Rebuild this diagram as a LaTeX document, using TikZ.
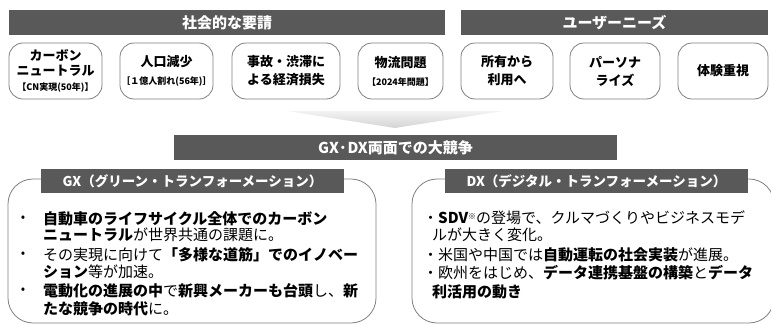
\documentclass[tikz,border=0pt]{standalone}
\usepackage{fontspec}
\setmainfont{Noto Sans CJK JP}
\definecolor{hdr}{HTML}{595959}
\definecolor{bord}{HTML}{7F7F7F}
\newcommand\smalltxt[1]{{\fontsize{9}{10}\selectfont #1}}
\begin{document}
\begin{tikzpicture}[x=1pt,y=-1pt,
  hdrbar/.style={fill=hdr, text=white, inner sep=0pt, minimum height=25pt,
    font=\bfseries\fontsize{15}{18}\selectfont},
  needbox/.style={draw=bord, line width=0.8pt, rounded corners=14pt,
    minimum height=56pt, align=center, inner sep=0pt,
    font=\bfseries\fontsize{13}{18}\selectfont},
  areaframe/.style={draw=bord, line width=0.8pt, rounded corners=25pt, inner sep=0pt},
  lblbar/.style={fill=hdr, text=white, inner sep=0pt, minimum height=24pt,
    font=\bfseries\fontsize{13.5}{16}\selectfont},
  bodytxt/.style={anchor=base west, inner sep=0pt, font=\fontsize{15}{17}\selectfont},
  bul/.style={inner sep=0pt, font=\fontsize{13}{15}\selectfont}
]
\useasboundingbox (0,0) rectangle (771,324);

% headers
\node[hdrbar, minimum width=436pt] (soc) at (227,22.5) {社会的な要請};
\node[hdrbar, minimum width=307pt] (usr) at (614.5,22.5) {ユーザーニーズ};

% need boxes
\node[needbox, minimum width=93pt, font=\bfseries\fontsize{13}{15}\selectfont] (b1) at (55.5,71) {カーボン\\ニュートラル\\\smalltxt{【CN実現(50年)】}};
\node[needbox, minimum width=93pt] (b2) at (166.5,71) {人口減少\\\smalltxt{［１億人割れ(56年)］}};
\node[needbox, minimum width=108pt] (b3) at (286,71) {事故・渋滞に\\よる経済損失};
\node[needbox, minimum width=85pt] (b4) at (400.5,71) {物流問題\\\smalltxt{【2024年問題】}};
\node[needbox, minimum width=92pt] (b5) at (507,71) {所有から\\利用へ};
\node[needbox, minimum width=90pt] (b6) at (615,71) {パーソナ\\ライズ};
\node[needbox, minimum width=90pt] (b7) at (723,71) {体験重視};

% chevron
\coordinate (cl) at (287,111);
\coordinate (cr) at (503,111);
\coordinate (ct) at (395,128);
\shade[top color=black!5, bottom color=black!17] (cl) -- (cr) -- (ct) -- cycle;

% main bar
\node[hdrbar, minimum width=443pt, font=\bfseries\fontsize{15}{17}\selectfont] (comp) at (395.5,147.5) {GX·DX両面での大競争};

% frames
\node[areaframe, minimum width=368pt, minimum height=144pt] (gxf) at (192,251) {};
\node[areaframe, minimum width=362pt, minimum height=144pt] (dxf) at (593,251) {};
\node[lblbar, minimum width=303pt] (gxl) at (192.5,181) {GX（グリーン・トランフォーメーション）};
\node[lblbar, minimum width=303pt] (dxl) at (596.5,181) {DX（デジタル・トランフォーメーション）};

% GX text
\node[bul] (gb1) at (23,218.5) {•};
\node[bul] (gb2) at (23,254.5) {•};
\node[bul] (gb3) at (23,291) {•};
\node[bodytxt] (g1) at (43,224) {\bfseries 自動車のライフサイクル全体でのカーボン};
\node[bodytxt] (g2) at (43,240.5) {{\bfseries ニュートラル}が世界共通の課題に。};
\node[bodytxt] (g3) at (43,260) {その実現に向けて{\bfseries 「多様な道筋」でのイノベー}};
\node[bodytxt] (g4) at (43,277.5) {{\bfseries ション}等が加速。};
\node[bodytxt] (g5) at (43,296.5) {{\bfseries 電動化の進展の中}で{\bfseries 新興メーカーも台頭}し、{\bfseries 新}};
\node[bodytxt] (g6) at (43,314) {{\bfseries たな競争の時代}に。};

% DX text
\node[bodytxt] (d1) at (423,223.5) {・{\bfseries SDV}\raisebox{4pt}{\fontsize{8}{8}\selectfont ※}の登場で、クルマづくりやビジネスモデ};
\node[bodytxt] (d2) at (432,240.5) {ルが大きく変化。};
\node[bodytxt] (d3) at (423,260.5) {・米国や中国では{\bfseries 自動運転の社会実装}が進展。};
\node[bodytxt] (d4) at (423,278.5) {・欧州をはじめ、{\bfseries データ連携基盤の構築}と{\bfseries データ}};
\node[bodytxt] (d5) at (432,297.5) {\bfseries 利活用の動き};
\end{tikzpicture}
\end{document}
